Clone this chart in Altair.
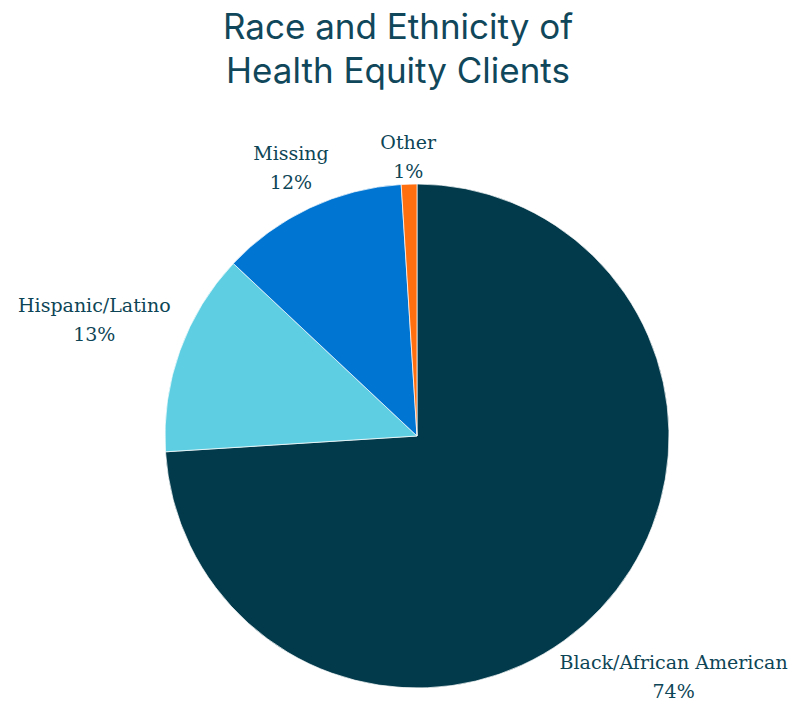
import altair as alt
import pandas as pd

categories = ["Black/African American", "Hispanic/Latino", "Missing", "Other"]
values = [74, 13, 12, 1]
colors = ["#023a4b", "#5ecfe2", "#0075d2", "#ff6f0f"]

df = pd.DataFrame({"cat": categories, "value": values, "idx": list(range(len(categories)))})

label_r = {"Black/African American": 352, "Hispanic/Latino": 343, "Missing": 296, "Other": 279}
r_expr = " : ".join(f"datum.cat == '{k}' ? {v}" for k, v in label_r.items()) + " : 300"

CX, CY, R = 417, 336, 252
theta_scale = alt.Scale(domain=[0, 100], range=[0, 6.283185307179586])

base = alt.Chart(df).transform_stack(
    stack="value", groupby=[], as_=["v0", "v1"], sort=[alt.SortField("idx", order="ascending")]
).transform_calculate(mid="(datum.v0 + datum.v1) / 2")

pie = base.mark_arc(stroke="white", strokeWidth=0.7).encode(
    theta=alt.Theta("v0:Q", scale=theta_scale),
    theta2="v1:Q",
    color=alt.Color("cat:N", scale=alt.Scale(domain=categories, range=colors), legend=None),
    radius=alt.value(R),
    x=alt.value(CX), y=alt.value(CY),
)

labels = base.transform_calculate(
    label="datum.cat + '\\n' + datum.value + '%'",
    lr=r_expr,
).mark_text(
    font="DejaVu Serif", fontSize=19, color="#0d4556", lineBreak="\n",
    lineHeight=29, align="center", baseline="middle", dy=-14,
).encode(
    theta=alt.Theta("mid:Q", scale=theta_scale),
    text="label:N",
    radius=alt.Radius("lr:Q", scale=None),
    x=alt.value(CX), y=alt.value(CY),
)

chart = alt.layer(pie, labels).properties(
    width=796, height=604,
    autosize=alt.AutoSizeParams(type="none"),
    padding={"top": 100, "left": 0, "right": 0, "bottom": 0},
    title=alt.TitleParams(
        ["Race and Ethnicity of", "Health Equity Clients"],
        font="Inter", fontSize=35, fontWeight="normal", color="#10475a",
        lineHeight=44, anchor="middle", offset=10,
    ),
).configure_view(stroke=None)

chart.save("out.html", embed_options={"renderer": "svg", "actions": False})
